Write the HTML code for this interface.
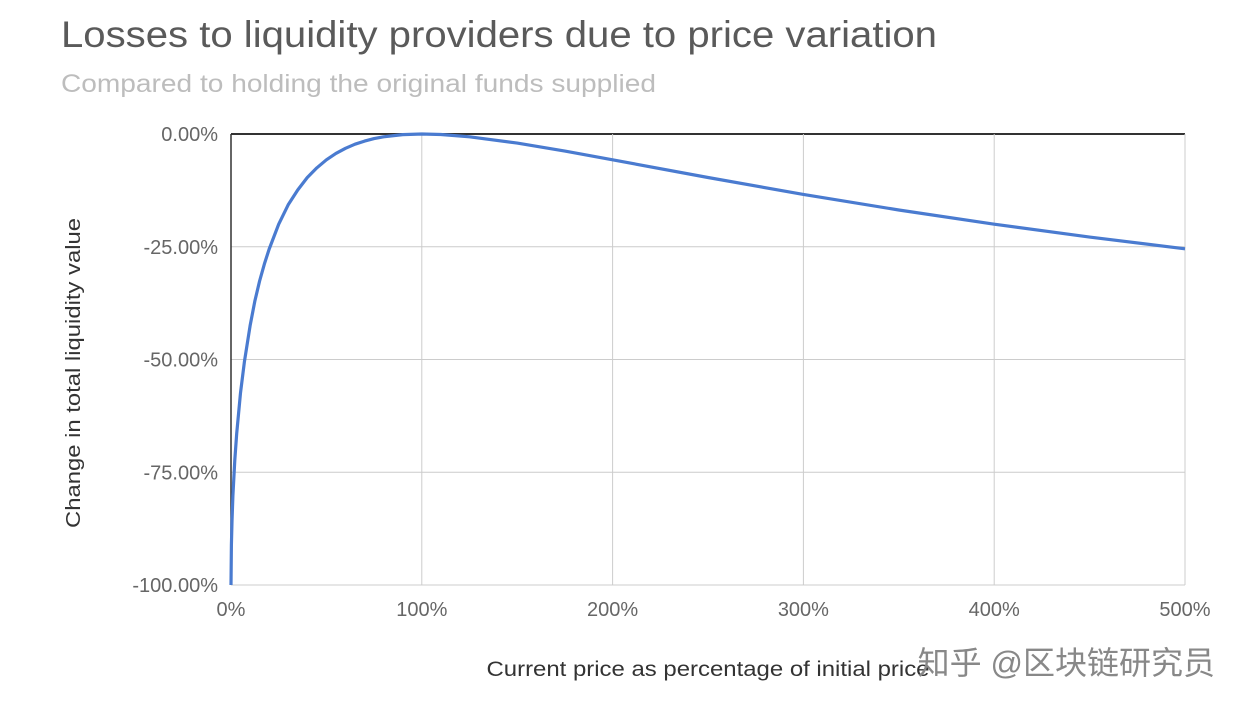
<!DOCTYPE html>
<html><head><meta charset="utf-8"><style>
body{margin:0;background:#fff;}
svg{display:block;font-family:"Liberation Sans","Noto Sans CJK SC",sans-serif;}
</style></head><body>
<svg id="c" width="1248" height="714">
<text x="61" y="47" font-size="37" fill="#5a5a5a" textLength="876" lengthAdjust="spacingAndGlyphs">Losses to liquidity providers due to price variation</text>
<text x="61" y="92" font-size="25" fill="#bdbdbd" textLength="595" lengthAdjust="spacingAndGlyphs">Compared to holding the original funds supplied</text>
<g id="grid"></g>
<g id="axes"></g>
<path id="line" fill="none" stroke="#4a7bd0" stroke-width="3.2" stroke-linejoin="round"/>
<text transform="translate(80,373) rotate(-90)" text-anchor="middle" font-size="20" fill="#333" textLength="310" lengthAdjust="spacingAndGlyphs">Change in total liquidity value</text>
<text x="708" y="676" text-anchor="middle" font-size="21" fill="#333" textLength="443" lengthAdjust="spacingAndGlyphs">Current price as percentage of initial price</text>
<text x="1215" y="674" text-anchor="end" font-size="32" fill="#888">知乎 @区块链研究员</text>
</svg>
<script>
const xTicks=[0,100,200,300,400,500];
const yTicks=[0,-25,-50,-75,-100];
const priceRatio=[0,0.2,0.5,1,2,3,5,7,10,12.5,15,17.5,20,25,30,35,40,45,50,55,60,65,70,75,80,90,100,110,125,150,175,200,250,300,350,400,450,500];
const lossPct=[-100,-91.1,-85.9,-80.2,-72.3,-66.4,-57.4,-50.5,-42.5,-37.1,-32.6,-28.8,-25.5,-20,-15.7,-12.4,-9.65,-7.5,-5.72,-4.3,-3.18,-2.27,-1.57,-1.03,-0.62,-0.14,0,-0.11,-0.62,-2.02,-3.8,-5.72,-9.65,-13.4,-16.85,-20,-22.86,-25.46];
const X0=231,X1=1185,Y0=134,Y1=585;
const sx=v=>X0+v/500*(X1-X0);
const sy=v=>Y0+(0-v)/100*(Y1-Y0);
const NS="http://www.w3.org/2000/svg";
const grid=document.getElementById('grid'),axes=document.getElementById('axes');
function mk(tag,attrs,parent){const e=document.createElementNS(NS,tag);for(const k in attrs)e.setAttribute(k,attrs[k]);parent.appendChild(e);return e;}
yTicks.forEach(t=>{
 const l=mk('line',{x1:X0,x2:X1,y1:sy(t),y2:sy(t),stroke:t===0?'#333':'#ccc','stroke-width':t===0?2:1},grid);
 
 
 const tx=mk('text',{x:218,y:sy(t)+7,'text-anchor':'end','font-size':20,fill:'#666'},axes);
 tx.textContent=t.toFixed(2)+'%';
 
 
});
xTicks.forEach(t=>{
 const l=mk('line',{x1:sx(t),x2:sx(t),y1:Y0,y2:Y1,stroke:t===0?'#333':'#ccc','stroke-width':t===0?1.5:1},grid);
 
 
 const tx=mk('text',{x:sx(t),y:616,'text-anchor':'middle','font-size':20,fill:'#666'},axes);
 tx.textContent=t+'%';
 
 
});
document.getElementById('line').setAttribute('d',priceRatio.map((p,i)=>(i?'L':'M')+sx(p).toFixed(1)+','+sy(lossPct[i]).toFixed(1)).join(''));
</script>
</body></html>
